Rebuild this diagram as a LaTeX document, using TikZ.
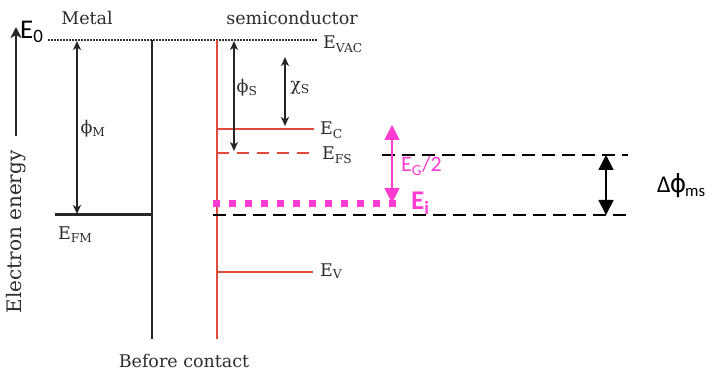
\documentclass[tikz,border=0pt]{standalone}
\usepackage{fontspec}
\newfontfamily\dvsfont{DejaVu Serif}
\newfontfamily\carlitofont{Carlito}
\newfontfamily\dvsansfont{DejaVu Sans}
\usetikzlibrary{arrows.meta}
\definecolor{semred}{RGB}{225,75,60}
\definecolor{mag}{RGB}{255,60,210}
\definecolor{txtgray}{RGB}{45,45,45}
\begin{document}
\begin{tikzpicture}[x=1pt,y=-1pt,
  serif/.style={font=\dvsfont\fontsize{17.5}{20}\selectfont, text=txtgray, inner sep=0pt},
  sans/.style={font=\carlitofont\fontsize{20}{24}\selectfont, inner sep=0pt},
  metal/.style={line width=2.6pt, black!85},
  level/.style={line width=2.3pt, semred},
  dimarrow/.style={line width=1.5pt, black!85, {Stealth[length=9pt,width=8pt,inset=2.5pt]}-{Stealth[length=9pt,width=8pt,inset=2.5pt]}},
  bigarrow/.style={line width=1.8pt, {Triangle[length=15pt,width=15pt]}-{Triangle[length=15pt,width=15pt]}},
  bdash/.style={line width=1.8pt, dash pattern=on 13pt off 7pt},
]
\useasboundingbox (0,0) rectangle (712,374);
\fill[white] (0,0) rectangle (712,374);

% coordinates
\coordinate (vacL) at (48,40);
\coordinate (vacR) at (317,40);
\coordinate (mTop) at (152,40);
\coordinate (mBot) at (152,339);
\coordinate (efmL) at (55,215);
\coordinate (efmR) at (152,215);
\coordinate (sTop) at (217,40);
\coordinate (sBot) at (217,339);
\coordinate (ecL) at (217,129);
\coordinate (ecR) at (314,129);
\coordinate (efsL) at (217,153);
\coordinate (efsR) at (314,153);
\coordinate (evL) at (217,272);
\coordinate (evR) at (313,272);
\coordinate (phiMt) at (77,41);
\coordinate (phiMb) at (77,214);
\coordinate (phiSt) at (234,41);
\coordinate (phiSb) at (234,151);
\coordinate (chiSt) at (285,57);
\coordinate (chiSb) at (285,126);
\coordinate (enB) at (16,136);
\coordinate (enT) at (16,27);
\coordinate (upL) at (382,155);
\coordinate (upR) at (628,155);
\coordinate (loL) at (213,215);
\coordinate (loR) at (627,215);
\coordinate (eiL) at (213,204);
\coordinate (eiR) at (397,204);
\coordinate (egT) at (392,125);
\coordinate (egB) at (392,203);
\coordinate (dmsT) at (606,155);
\coordinate (dmsB) at (606,215);

% vacuum level
\draw[line width=2pt, black!80, dash pattern=on 1.5pt off 1.5pt] (vacL) -- (vacR);
% metal
\draw[metal] (mTop) -- (mBot);
\draw[metal, line width=3pt] (efmL) -- (efmR);
% semiconductor
\draw[level] (sTop) -- (sBot);
\draw[level] (ecL) -- (ecR);
\draw[level, dash pattern=on 12pt off 8pt] (efsL) -- (efsR);
\draw[level] (evL) -- (evR);
% dimension arrows
\draw[dimarrow] (phiMt) -- (phiMb);
\draw[dimarrow] (phiSt) -- (phiSb);
\draw[dimarrow] (chiSt) -- (chiSb);
\draw[line width=2pt, black!85, -{Stealth[length=11pt,width=11pt,inset=3pt]}] (enB) -- (enT);
% dashed reference lines
\draw[bdash] (upL) -- (upR);
\draw[bdash] (loL) -- (loR);
% intrinsic level
\draw[mag, line width=7pt, dash pattern=on 7pt off 9pt] (eiL) -- (eiR);
\draw[bigarrow, mag] (egT) -- (egB);
\draw[bigarrow, black] (dmsT) -- (dmsB);

% labels
\node[serif] (metalLbl) at (87,18) {Metal};
\node[serif] (semiLbl) at (292,18) {semiconductor};
\node[serif, anchor=base west] (evac) at (323,49) {E\textsubscript{VAC}};
\node[serif] (phiM) at (93,129) {ϕ\textsubscript{M}};
\node[serif] (phiS) at (247,88) {ϕ\textsubscript{S}};
\node[serif] (chiS) at (300,88) {χ\textsubscript{S}};
\node[serif, anchor=base west] (ec) at (320,135) {E\textsubscript{C}};
\node[serif, anchor=base west] (efs) at (322,160) {E\textsubscript{FS}};
\node[serif, anchor=base west] (ev) at (320,276) {E\textsubscript{V}};
\node[serif, anchor=base west] (efm) at (58,240) {E\textsubscript{FM}};
\node[serif] (before) at (184,361) {Before contact};
\node[serif, font=\dvsfont\fontsize{20}{22}\selectfont, rotate=90] (energy) at (16,232) {Electron energy};
\node[sans, font=\carlitofont\fontsize{27}{30}\selectfont, anchor=base west] (e0) at (20,39) {E\textsubscript{0}};
\node[sans, mag, font=\carlitofont\bfseries\fontsize{27}{30}\selectfont, anchor=base west] (ei) at (411,210) {E\textsubscript{i}};
\node[sans, mag, font=\carlitofont\fontsize{22}{24}\selectfont, anchor=base west] (eg) at (401,172) {E\textsubscript{G}/2};
\node[sans, font=\carlitofont\fontsize{24}{26}\selectfont, anchor=base west] (dms) at (657,193) {Δ\kern-1pt{\dvsansfont\fontsize{25}{28}\selectfont ϕ}\kern-1pt\textsubscript{ms}};
\end{tikzpicture}
\end{document}
